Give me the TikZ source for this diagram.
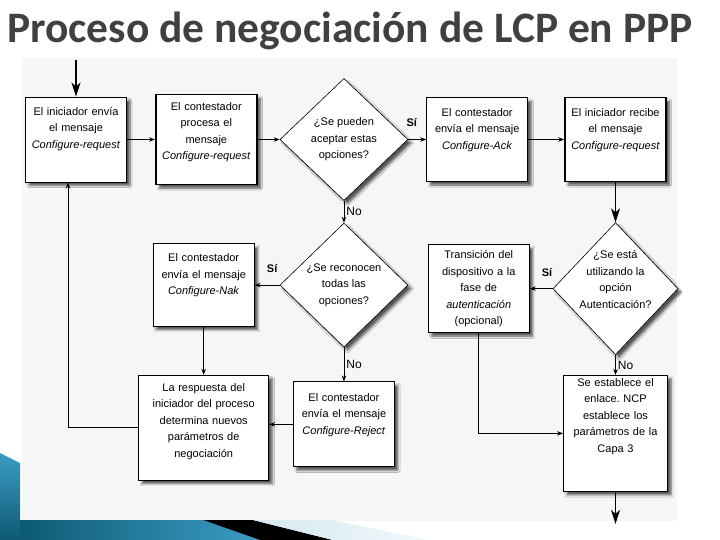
\documentclass[tikz,border=0pt]{standalone}
\usepackage{fontspec}
\setmainfont{Liberation Sans}
\newfontfamily\titlefont{Carlito}
\usetikzlibrary{positioning, arrows.meta, shapes.geometric, shadows.blur}
\frenchspacing

\definecolor{titlegray}{RGB}{64,64,64}
\definecolor{slidebg}{RGB}{246,246,248}
\definecolor{tealdark}{RGB}{14,90,116}
\definecolor{teallight}{RGB}{60,156,196}
\definecolor{paleblue}{RGB}{212,232,240}

\begin{document}
\begin{tikzpicture}[x=1pt, y=-1pt,
	font=\fontsize{11}{16.5}\selectfont,
	box/.style={
		draw,
		fill=white,
		line width=0.9pt,
		text width=93pt,
		align=center,
		inner xsep=4pt,
		inner ysep=0pt,
		blur shadow={shadow xshift=3.5pt, shadow yshift=-3.5pt, shadow opacity=65, shadow blur steps=6}
	},
	thickbox/.style={box, line width=1.7pt},
	decision/.style={
		diamond,
		draw,
		fill=white,
		line width=0.6pt,
		minimum width=128pt,
		minimum height=122pt,
		inner sep=0pt,
		blur shadow={shadow xshift=3.5pt, shadow yshift=-3.5pt, shadow opacity=65, shadow blur steps=6}
	},
	qtext/.style={align=center, inner sep=0pt},
	arrow/.style={-{Stealth[length=6pt, width=4.5pt]}, line width=0.8pt},
	bigarrow/.style={-{Stealth[length=14pt, width=9pt, inset=4pt]}, line width=1.4pt},
	yes/.style={font=\fontsize{11}{13}\selectfont\bfseries, inner sep=1pt},
	no/.style={font=\fontsize{12}{14}\selectfont, inner sep=1pt}
	]
	\useasboundingbox (0,0) rectangle (720,540);
	
	% ======================
	% Slide background
	% ======================
	\fill[slidebg] (22,58) rectangle (677,521);
	\shade[top color=teallight, bottom color=tealdark] (0,453) -- (20,463) -- (20,540) -- (0,540) -- cycle;
	\shade[left color=tealdark, right color=teallight] (20,520) -- (203,520) -- (260,540) -- (20,540) -- cycle;
	\fill[black] (203,520) -- (253,520) -- (333,540) -- (260,540) -- cycle;
	\shade[left color=paleblue, right color=paleblue!30] (253,520) -- (330,520) -- (430,540) -- (333,540) -- cycle;
	
	\node (title) [anchor=base west, inner sep=0pt, text=titlegray, font=\titlefont\fontsize{43.5}{48}\selectfont\bfseries] at (7,43) {Proceso de negociación de LCP en PPP};
	
	% ======================
	% Top row
	% ======================
	\node (init) [box, text height=18.5pt, text depth=66.5pt] at (76,139.5) {El iniciador envía\\el mensaje\\\textit{Configure-request}};
	\node (proc) [thickbox, text height=16pt, text depth=74pt, right=28pt of init] {El contestador\\procesa el\\mensaje\\\textit{Configure-request}};
	\node (accept) [decision, right=22pt of proc, label={[qtext]center:¿Se pueden\\aceptar estas\\opciones?}] {};
	\node (ack) [box, text height=19pt, text depth=65pt, right=18pt of accept] {El contestador\\envía el mensaje\\\textit{Configure-Ack}};
	\node (recv) [thickbox, text height=19pt, text depth=65pt, right=36pt of ack] {El iniciador recibe\\el mensaje\\\textit{Configure-request}};
	
	\coordinate [above=37pt of init] (start);
	\draw[bigarrow] (start) -- (init);
	\draw[arrow] (init) -- (proc);
	\draw[arrow] (proc) -- (accept);
	\draw[arrow] (accept) -- node[yes, pos=0.2, above=11pt] {Sí} (ack);
	\draw[arrow] (ack) -- (recv);
	
	% ======================
	% Middle row
	% ======================
	\node (known) [decision, minimum height=124pt, below=22pt of accept, label={[qtext]center:¿Se reconocen\\todas las\\opciones?}] {};
	\node (nak) [box, text height=18pt, text depth=64.5pt, left=25pt of known] {El contestador\\envía el mensaje\\\textit{Configure-Nak}};
	\node (auth) [decision, minimum width=125pt, minimum height=132pt, below=40pt of recv, label={[qtext, yshift=9pt]center:¿Se está\\utilizando la\\opción\\Autenticación?}] {};
	\node (trans) [box, text height=14pt, text depth=74pt, left=23pt of auth] {Transición del\\dispositivo a la\\fase de\\\textit{autenticación}\\(opcional)};
	
	\draw[arrow] (accept) -- node[no, right=1pt] {No} (known);
	\draw[arrow] (known) -- node[yes, pos=0.3, above=11pt] {Sí} (nak);
	\draw[bigarrow] (recv) -- (auth);
	\draw[arrow] (auth) -- node[yes, pos=0.25, above=11pt] {Sí} (trans);
	
	% ======================
	% Bottom row
	% ======================
	\node (reject) [box, text height=19.5pt, text depth=65.5pt, below=34pt of known] {El contestador\\envía el mensaje\\\textit{Configure-Reject}};
	\node (resp) [box, text width=122pt, text height=16pt, text depth=89pt, below=48pt of nak] {La respuesta del\\iniciador del proceso\\determina nuevos\\parámetros de\\negociación};
	\node (link) [box, text width=96pt, text height=11pt, text depth=105pt, below=20pt of auth] {Se establece el\\enlace. NCP\\establece los\\parámetros de la\\Capa 3};
	
	\draw[arrow] (known) -- node[no, right=1pt] {No} (reject);
	\draw[arrow] (nak) -- (resp);
	\draw[arrow] (reject.west) -- (reject.west -| resp.east);
	\draw[arrow] (resp.west) -| ([xshift=-8pt]init.south);
	\draw[arrow] (auth) -- node[no, right=1pt] {No} (link);
	\draw[arrow] (trans.south) |- (link.west);
	
	\coordinate [below=32pt of link] (finish);
	\draw[bigarrow] (link) -- (finish);
	
\end{tikzpicture}
\end{document}
